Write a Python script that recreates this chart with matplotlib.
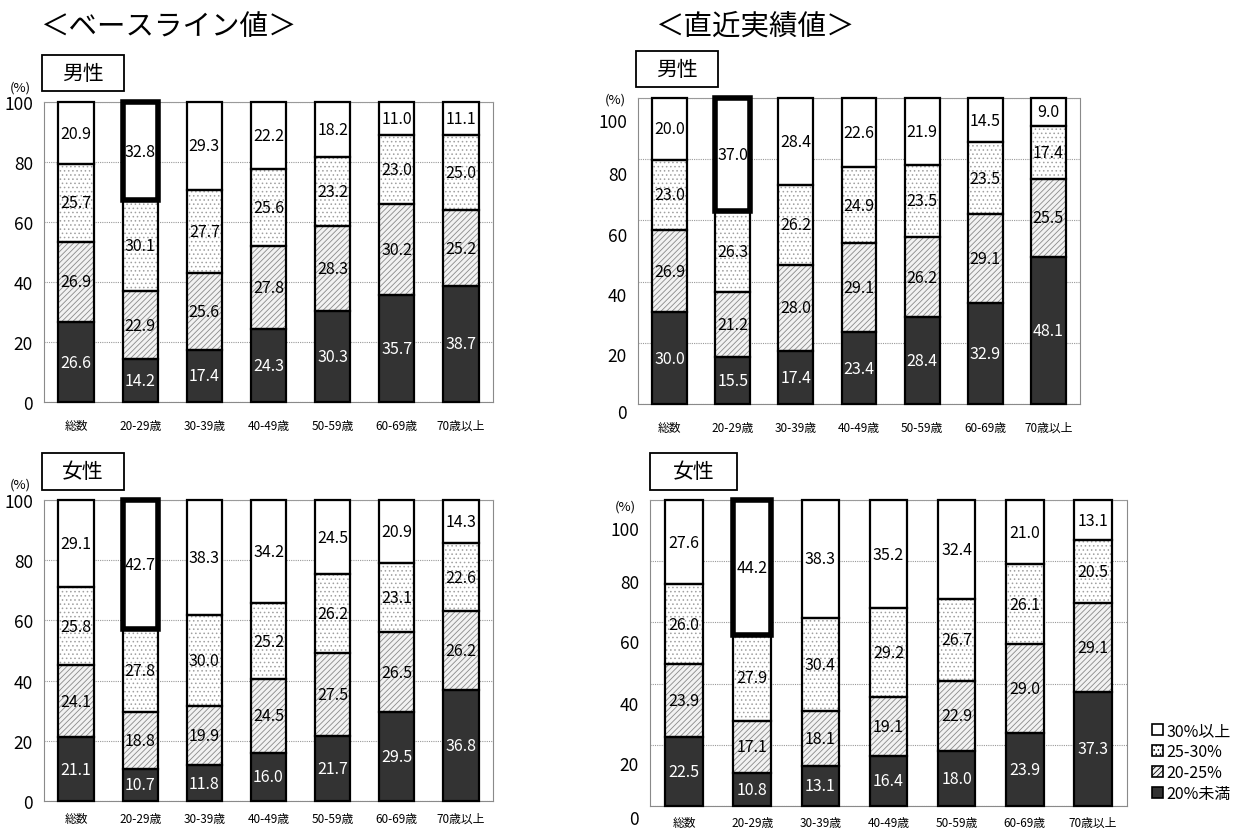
import numpy as np
import matplotlib
matplotlib.use("Agg")
import matplotlib.pyplot as plt
from matplotlib.patches import Patch, Rectangle
from matplotlib.transforms import ScaledTranslation

plt.rcParams['font.family'] = ['Noto Sans CJK JP', 'DejaVu Sans']
plt.rcParams['hatch.linewidth'] = 0.6

# カテゴリ
categorias = ['総数', '20-29歳', '30-39歳', '40-49歳', '50-59歳', '60-69歳', '70歳以上']
faixas = ['20%未満', '20-25%', '25-30%', '30%以上']

# ベースライン値 男性
base_m_lt20 = [26.6, 14.2, 17.4, 24.3, 30.3, 35.7, 38.7]
base_m_20_25 = [26.9, 22.9, 25.6, 27.8, 28.3, 30.2, 25.2]
base_m_25_30 = [25.7, 30.1, 27.7, 25.6, 23.2, 23.0, 25.0]
base_m_ge30 = [20.9, 32.8, 29.3, 22.2, 18.2, 11.0, 11.1]

# ベースライン値 女性
base_f_lt20 = [21.1, 10.7, 11.8, 16.0, 21.7, 29.5, 36.8]
base_f_20_25 = [24.1, 18.8, 19.9, 24.5, 27.5, 26.5, 26.2]
base_f_25_30 = [25.8, 27.8, 30.0, 25.2, 26.2, 23.1, 22.6]
base_f_ge30 = [29.1, 42.7, 38.3, 34.2, 24.5, 20.9, 14.3]

# 直近実績値 男性
rec_m_lt20 = [30.0, 15.5, 17.4, 23.4, 28.4, 32.9, 48.1]
rec_m_20_25 = [26.9, 21.2, 28.0, 29.1, 26.2, 29.1, 25.5]
rec_m_25_30 = [23.0, 26.3, 26.2, 24.9, 23.5, 23.5, 17.4]
rec_m_ge30 = [20.0, 37.0, 28.4, 22.6, 21.9, 14.5, 9.0]

# 直近実績値 女性
rec_f_lt20 = [22.5, 10.8, 13.1, 16.4, 18.0, 23.9, 37.3]
rec_f_20_25 = [23.9, 17.1, 18.1, 19.1, 22.9, 29.0, 29.1]
rec_f_25_30 = [26.0, 27.9, 30.4, 29.2, 26.7, 26.1, 20.5]
rec_f_ge30 = [27.6, 44.2, 38.3, 35.2, 32.4, 21.0, 13.1]

destaque = '20-29歳'  # 太枠で囲む区分

# estilos das faixas: (cor de fundo, hachura, cor da hachura)
estilos = [
    ('#333333', None, '#333333'),
    ('#f2f2f2', '//////', '#8a8a8a'),
    ('#ffffff', '....', '#a0a0a0'),
    ('#ffffff', None, '#ffffff'),
]

W, H = 1240, 829
fig = plt.figure(figsize=(W / 100, H / 100), dpi=100)


def px(x0, y0, x1, y1):
    # caixa em pixels -> fração da figura
    return [x0 / W, 1 - y1 / H, (x1 - x0) / W, (y1 - y0) / H]


def painel(rect, series, deslocamento=None, pad_x=12):
    ax = fig.add_axes(rect)
    x = np.arange(len(categorias))
    base = np.zeros(len(categorias))
    largura = 0.55
    for (fundo, hatch, cor_h), vals in zip(estilos, series):
        vals = np.array(vals)
        ax.bar(x, vals, largura, bottom=base, color=fundo, hatch=hatch,
               edgecolor=cor_h, linewidth=0, zorder=2, clip_on=False)
        ax.bar(x, vals, largura, bottom=base, fill=False, edgecolor='black',
               linewidth=1.6, zorder=3, clip_on=False)
        escuro = fundo == '#333333'
        for xi, b, v in zip(x, base, vals):
            ax.text(xi, b + v / 2, f'{v:.1f}', ha='center', va='center',
                    fontsize=11.5, color='white' if escuro else 'black', zorder=4)
        base = base + vals
    # 太枠: 20-29歳 の 30%以上
    i = categorias.index(destaque)
    topo = np.array(series[3])
    ax.bar(x[i], topo[i], largura, bottom=base[i] - topo[i], fill=False,
           edgecolor='black', linewidth=4, zorder=5, clip_on=False)

    ax.set_xlim(-0.5, len(categorias) - 0.5)
    ax.set_ylim(0, 100)
    ax.set_yticks([0, 20, 40, 60, 80, 100])
    ax.set_xticks(x)
    ax.set_xticklabels(categorias, fontsize=8.5)
    ax.tick_params(axis='x', length=0, pad=pad_x)
    ax.tick_params(axis='y', length=0, pad=8, labelsize=12.5)
    ax.yaxis.grid(True, color='#9a9a9a', linestyle=(0, (1, 1)), linewidth=0.8, zorder=0)
    ax.set_axisbelow(True)
    for lado in ['left', 'right', 'bottom']:
        ax.spines[lado].set_color('#8a8a8a')
    ax.spines['top'].set_color('#9a9a9a')
    ax.spines['top'].set_linestyle((0, (1, 1)))
    if deslocamento:
        # no original, os rótulos do eixo y estão um pouco abaixo das linhas
        for lab, d in zip(ax.get_yticklabels(), deslocamento):
            off = ScaledTranslation(0, -d / 100, fig.dpi_scale_trans)
            lab.set_transform(lab.get_transform() + off)
    return ax


def caixa(x0, y0, x1, y1, texto):
    fig.patches.append(Rectangle((x0 / W, 1 - y1 / H), (x1 - x0) / W, (y1 - y0) / H,
                                 transform=fig.transFigure, fill=False,
                                 edgecolor='black', linewidth=1.3))
    fig.text((x0 + x1) / 2 / W, 1 - (y0 + y1) / 2 / H, texto, ha='center',
             va='center', fontsize=15)


painel(px(44, 103, 493, 403), [base_m_lt20, base_m_20_25, base_m_25_30, base_m_ge30])
painel(px(44, 501, 493, 802), [base_f_lt20, base_f_20_25, base_f_25_30, base_f_ge30], pad_x=8)
painel(px(638, 99, 1080, 405), [rec_m_lt20, rec_m_20_25, rec_m_25_30, rec_m_ge30],
       [7, 11, 12, 14, 14, 22])
painel(px(650, 501, 1127, 807), [rec_f_lt20, rec_f_20_25, rec_f_25_30, rec_f_ge30],
       [11, 18, 19, 19, 20, 28], pad_x=7)

# títulos
fig.text(40 / W, 1 - 27 / H, '＜ベースライン値＞', fontsize=20.5, va='center', ha='left')
fig.text(655 / W, 1 - 27 / H, '＜直近実績値＞', fontsize=20.5, va='center', ha='left')

caixa(42, 56, 124, 92, '男性')
caixa(636, 52, 718, 88, '男性')
caixa(42, 454, 124, 491, '女性')
caixa(650, 454, 737, 491, '女性')

for xx, yy in [(20, 88), (615, 100), (20, 485), (625, 507)]:
    fig.text(xx / W, 1 - yy / H, '(%)', fontsize=9.5, ha='center', va='center')

# legenda
handles = [Patch(facecolor=f, hatch=h, edgecolor='black', linewidth=1.2)
           for f, h, _ in reversed(estilos)]
fig.legend(handles, list(reversed(faixas)), loc='upper left',
           bbox_to_anchor=(1152 / W, 1 - 723 / H), frameon=False, fontsize=11.5,
           handlelength=0.7, handleheight=0.7, handletextpad=0.2, labelspacing=0.25,
           borderpad=0, borderaxespad=0)

plt.savefig('out.png', dpi=100)
